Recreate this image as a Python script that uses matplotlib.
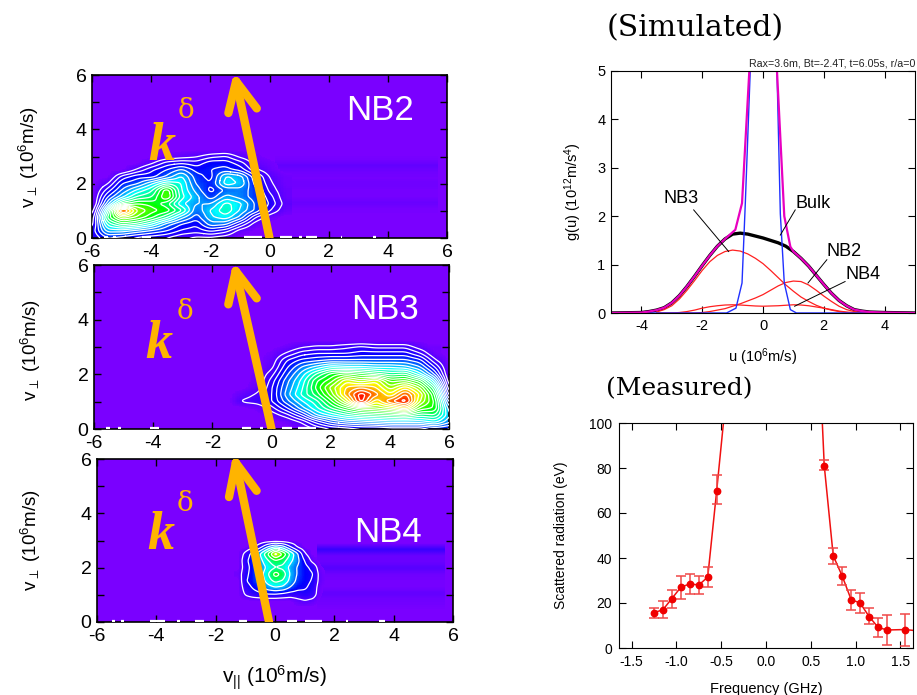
"""Velocity-space maps for NB2/NB3/NB4 with simulated and measured spectra."""

import matplotlib

matplotlib.use("Agg")
import matplotlib.pyplot as plt
import numpy as np
from matplotlib.colors import LinearSegmentedColormap

W, H = 917, 695

# fast-ion maps, rows run upward in v_perp, values in percent of colour scale
NB2_X = [-6, -5.5, -5, -4.5, -4, -3.5, -3, -2.5, -2, -1.5, -1, -0.5, 0, 0.5]
NB2_Y = [0, 0.25, 0.5, 0.75, 1, 1.25, 1.5, 1.75, 2, 2.25, 2.5, 2.75, 3, 3.25]
NB2_Z = [
    [12, 22, 20, 16, 14, 12, 8, 6, 6, 4, 0, 0, 0, 0],
    [14, 34, 34, 30, 26, 22, 16, 14, 18, 14, 4, 0, 0, 0],
    [10, 44, 54, 50, 42, 30, 22, 18, 30, 28, 16, 4, 0, 0],
    [8, 54, 72, 66, 58, 48, 34, 24, 36, 40, 30, 12, 3, 0],
    [4, 44, 98, 72, 64, 60, 48, 28, 38, 46, 36, 26, 12, 3],
    [0, 30, 56, 62, 60, 54, 38, 32, 32, 44, 38, 26, 16, 5],
    [0, 22, 36, 48, 52, 68, 44, 34, 24, 34, 30, 24, 14, 3],
    [0, 14, 28, 38, 46, 66, 42, 30, 20, 28, 30, 24, 10, 3],
    [0, 6, 22, 26, 36, 46, 42, 26, 22, 40, 36, 20, 8, 2],
    [0, 0, 14, 20, 20, 28, 38, 24, 20, 38, 34, 18, 6, 2],
    [0, 0, 0, 8, 16, 22, 28, 20, 22, 24, 20, 8, 3, 0],
    [0, 0, 0, 0, 6, 14, 16, 14, 20, 20, 14, 4, 2, 0],
    [0, 0, 0, 0, 0, 2, 4, 6, 10, 12, 5, 2, 0, 0],
    [0, 0, 0, 0, 0, 0, 0, 0, 0, 0, 0, 0, 0, 0],
]

NB3_X = [-1.5, -1, -0.5, 0, 0.5, 1, 1.5, 2, 2.5, 3, 3.5, 4, 4.5, 5, 5.5, 6]
NB3_Y = [0, 0.25, 0.5, 0.75, 1, 1.25, 1.5, 1.75, 2, 2.25, 2.5, 2.75, 3, 3.25]
NB3_Z = [
    [0, 0, 0, 0, 0, 2, 8, 12, 14, 16, 16, 18, 18, 18, 22, 20],
    [0, 0, 0, 0, 2, 8, 18, 26, 30, 32, 34, 36, 36, 36, 40, 30],
    [0, 0, 0, 4, 10, 20, 34, 40, 46, 50, 52, 54, 56, 50, 52, 34],
    [0, 0, 2, 10, 20, 32, 42, 52, 60, 68, 70, 74, 82, 64, 60, 30],
    [0, 8, 10, 16, 28, 38, 46, 60, 76, 100, 80, 92, 100, 74, 60, 22],
    [0, 4, 8, 16, 32, 44, 54, 68, 86, 100, 90, 80, 94, 78, 56, 12],
    [0, 0, 4, 16, 30, 42, 58, 72, 84, 88, 84, 72, 82, 70, 48, 6],
    [0, 0, 2, 14, 28, 40, 56, 64, 78, 72, 78, 64, 66, 58, 36, 2],
    [0, 0, 2, 10, 24, 36, 48, 58, 62, 58, 54, 50, 52, 40, 24, 0],
    [0, 0, 0, 6, 20, 30, 36, 42, 40, 40, 38, 38, 36, 30, 16, 0],
    [0, 0, 0, 4, 16, 22, 24, 26, 26, 26, 26, 26, 26, 22, 8, 0],
    [0, 0, 0, 2, 8, 14, 16, 16, 16, 18, 18, 18, 18, 12, 2, 0],
    [0, 0, 0, 0, 2, 6, 8, 8, 10, 12, 10, 10, 10, 4, 0, 0],
    [0, 0, 0, 0, 0, 0, 0, 0, 0, 0, 0, 0, 0, 0, 0, 0],
]

NB4_X = [-1.25, -1, -0.75, -0.5, -0.25, 0, 0.25, 0.5, 0.75, 1, 1.25, 1.5, 1.75]
NB4_Y = [0.5, 0.75, 1, 1.25, 1.5, 1.75, 2, 2.25, 2.5, 2.75, 3, 3.25]
NB4_Z = [
    [0, 0, 0, 0, 0, 0, 0, 0, 0, 0, 0, 0, 0],
    [0, 0, 0, 0, 0, 0, 0, 0, 4, 6, 4, 0, 0],
    [0, 8, 12, 14, 16, 16, 14, 12, 12, 14, 12, 2, 0],
    [0, 12, 18, 24, 32, 36, 34, 26, 20, 18, 14, 2, 0],
    [0, 16, 22, 30, 42, 50, 46, 34, 24, 20, 16, 4, 0],
    [2, 14, 22, 32, 46, 62, 54, 36, 26, 20, 18, 4, 0],
    [0, 12, 22, 30, 40, 46, 44, 34, 26, 20, 14, 2, 0],
    [0, 14, 24, 34, 46, 56, 52, 40, 30, 16, 4, 0, 0],
    [0, 10, 22, 38, 58, 84, 66, 46, 28, 8, 0, 0, 0],
    [0, 0, 4, 14, 28, 38, 32, 18, 6, 0, 0, 0, 0],
    [0, 0, 0, 0, 0, 0, 0, 0, 0, 0, 0, 0, 0],
    [0, 0, 0, 0, 0, 0, 0, 0, 0, 0, 0, 0, 0],
]

# faint horizontal streaks to the right of each blob
NB2_STREAK_Y = [0.75, 1.0, 1.25, 1.5, 1.75, 2.0, 2.25, 2.5, 2.75, 3.0, 3.25]
NB2_STREAK_V = [0, 1, 3, 1, 1, 2, 1, 2, 4, 1, 0]
NB3_STREAK_Y = [2.5, 2.75, 3.0, 3.25]
NB3_STREAK_V = [0, 1, 2, 0]
NB4_STREAK_Y = [0.25, 0.5, 0.75, 1.0, 1.25, 1.5, 1.75, 2.0, 2.25, 2.5, 2.75, 3.0]
NB4_STREAK_V = [0, 1, 2, 4, 1, 1, 2, 6, 3, 3, 11, 0]

# arrow: base, tip, left wing, right wing
NB2_ARROW = [(0, 0), (-1.13, 5.77), (-1.39, 4.6), (-0.43, 4.77)]
NB3_ARROW = [(0, 0), (-1.21, 5.78), (-1.46, 4.56), (-0.5, 4.78)]
NB4_ARROW = [(-0.2, 0), (-1.32, 5.86), (-1.55, 4.6), (-0.62, 4.83)]

# white specks along the lower edge (x start, x end)
NB2_SPECKS = [(-5.6, -5.45), (-5.3, -5.2), (-4.3, -4.0), (-0.85, -0.25), (0.35, 0.75), (1.0, 1.1), (1.25, 1.6), (2.4, 2.45), (3.5, 3.6)]
NB3_SPECKS = [(-5.6, -5.45), (-5.2, -5.1), (-4.1, -3.8), (-1.0, -0.7), (-0.4, -0.3), (0.35, 0.7), (0.9, 1.5)]
NB4_SPECKS = [(-5.5, -5.4), (-5.2, -5.1), (-4.2, -3.7), (-3.3, -3.2), (-2.7, -2.4), (-1.2, -0.95), (-0.3, -0.2), (0.4, 0.75), (1.0, 1.6), (2.4, 2.45), (3.5, 3.7)]

# simulated g(u)
U_TOTAL = [-5, -4, -3.75, -3.5, -3.25, -3, -2.75, -2.5, -2.25, -2, -1.75, -1.5, -1.25, -1, -0.75, -0.5, 0, 0.5, 0.75, 1, 1.25, 1.5, 1.75, 2, 2.25, 2.5, 2.75, 3, 3.25, 3.5, 4, 5]
G_TOTAL = [0, 0.01, 0.03, 0.06, 0.11, 0.21, 0.36, 0.55, 0.76, 0.98, 1.19, 1.38, 1.53, 1.63, 1.65, 1.63, 1.55, 1.45, 1.38, 1.27, 1.13, 0.97, 0.78, 0.59, 0.41, 0.26, 0.15, 0.07, 0.04, 0.02, 0.01, 0]
U_ALL_LEFT = [-5, -4, -3.75, -3.5, -3.25, -3, -2.75, -2.5, -2.25, -2, -1.75, -1.5, -1.25, -0.91, -0.69, -0.45, -0.3]
G_ALL_LEFT = [0, 0.01, 0.03, 0.06, 0.11, 0.21, 0.36, 0.55, 0.76, 0.98, 1.19, 1.38, 1.53, 1.72, 2.27, 5, 9]
U_ALL_RIGHT = [0.3, 0.46, 0.7, 0.9, 1, 1.25, 1.5, 1.75, 2, 2.25, 2.5, 2.75, 3, 3.25, 3.5, 4, 5]
G_ALL_RIGHT = [9, 5, 2.0, 1.37, 1.27, 1.13, 0.97, 0.78, 0.59, 0.41, 0.26, 0.15, 0.07, 0.04, 0.02, 0.01, 0]
U_BULK = [-5, -1.2, -0.89, -0.69, -0.58, -0.42, -0.3, 0.3, 0.46, 0.57, 0.7, 0.9, 1.1, 5]
G_BULK = [0, 0, 0.1, 0.62, 2.3, 5, 9, 9, 5, 2.05, 0.62, 0.07, 0, 0]
U_NB = [-3.5, -3.25, -3, -2.75, -2.5, -2.25, -2, -1.75, -1.5, -1.25, -1, -0.75, -0.5, -0.25, 0, 0.25, 0.5, 0.75, 1, 1.25, 1.5, 1.75, 2, 2.25, 2.5, 2.75, 3, 3.25, 3.5]
G_NB3 = [0.02, 0.07, 0.15, 0.29, 0.47, 0.67, 0.88, 1.06, 1.19, 1.27, 1.3, 1.28, 1.22, 1.13, 1.02, 0.88, 0.73, 0.58, 0.45, 0.33, 0.24, 0.16, 0.1, 0.06, 0.03, 0.01, 0, 0, 0]
G_NB2 = [0, 0, 0, 0, 0, 0, 0.01, 0.03, 0.06, 0.09, 0.14, 0.19, 0.25, 0.31, 0.38, 0.47, 0.56, 0.63, 0.66, 0.65, 0.58, 0.47, 0.35, 0.24, 0.14, 0.07, 0.03, 0.01, 0]
G_NB4 = [0, 0, 0, 0.01, 0.03, 0.06, 0.1, 0.13, 0.15, 0.165, 0.17, 0.165, 0.155, 0.145, 0.14, 0.145, 0.15, 0.16, 0.17, 0.165, 0.15, 0.125, 0.1, 0.07, 0.04, 0.02, 0.01, 0, 0]

# name, text position, leader start, leader end
CURVE_NAMES = ["NB3", "Bulk", "NB2", "NB4"]
CURVE_TEXT = [(-2.7, 2.36), (1.65, 2.26), (2.66, 1.27), (3.3, 0.8)]
LEADER_FROM = [(-2.28, 2.13), (1.06, 2.13), (2.1, 1.1), (2.7, 0.65)]
LEADER_TO = [(-1.13, 1.27), (0.57, 1.61), (1.48, 0.62), (1.04, 0.14)]

# measured spectrum
FREQ = [-1.25, -1.15, -1.05, -0.95, -0.85, -0.75, -0.65, -0.55, 0.65, 0.75, 0.85, 0.95, 1.05, 1.15, 1.25, 1.35, 1.55]
SIGNAL = [15.7, 17, 22, 27, 28.5, 28, 31.5, 70, 81, 41, 32, 21.5, 20, 14, 9.2, 8, 8.2]
ERR_LOW = [13.5, 13.5, 18, 22, 24, 24, 27, 64, 79, 37.5, 28, 17, 15.5, 10.5, 5, 1.5, 1]
ERR_HIGH = [18, 21, 26, 32, 33, 32, 36, 77, 83.5, 44.5, 36, 26, 24.5, 18, 13.5, 14.8, 15.3]
LINE_FREQ = [-1.25, -1.15, -1.05, -0.95, -0.85, -0.75, -0.65, -0.55, -0.45, 0.6, 0.65, 0.75, 0.85, 0.95, 1.05, 1.15, 1.25, 1.35, 1.55, 1.65]
LINE_SIGNAL = [15.7, 17, 22, 27, 28.5, 28, 31.5, 70, 110, 125, 81, 41, 32, 21.5, 20, 14, 9.2, 8, 8.2, 7.8]

plt.rcParams["font.family"] = ["Liberation Sans", "DejaVu Sans"]
plt.rcParams["mathtext.default"] = "regular"
plt.rcParams["axes.unicode_minus"] = False

CMAP = LinearSegmentedColormap.from_list(
    "maps", ["#7a00ff", "#0000ff", "#00ffff", "#00ff00", "#ffff00", "#ff0000"]
)
ORANGE = "#ffb400"


def add_axes_px(fig, left, top, right, bottom):
    return fig.add_axes([left / W, 1 - bottom / H, (right - left) / W, (bottom - top) / H])


def smooth_field(xs, ys, z, n=10):
    """Refine a coarse map by block repeat and two box passes."""
    z = np.asarray(z, dtype=float) / 100
    fine = np.kron(z, np.ones((n, n)))
    for width in (n, n // 2):
        kernel = np.ones(width) / width
        for axis in (0, 1):
            pad = [(0, 0), (0, 0)]
            pad[axis] = (n, n)
            padded = np.pad(fine, pad, mode="edge")
            padded = np.apply_along_axis(lambda v: np.convolve(v, kernel, mode="same"), axis, padded)
            fine = padded[n:-n, :] if axis == 0 else padded[:, n:-n]
    dx = xs[1] - xs[0]
    dy = ys[1] - ys[0]
    fx = xs[0] - dx / 2 + (np.arange(fine.shape[1]) + 0.5) * dx / n
    fy = ys[0] - dy / 2 + (np.arange(fine.shape[0]) + 0.5) * dy / n
    return fx, fy, fine


def draw_map(ax, name, xs, ys, z, streak_y, streak_v, streak_x0, arrow, specks, k_pos, d_pos, name_pos, step):
    ax.set_facecolor(CMAP(0.0))
    strip = np.array(streak_v, dtype=float)[:, None] / 100
    ax.imshow(
        strip,
        extent=[streak_x0, 5.7, streak_y[0], streak_y[-1]],
        origin="lower",
        aspect="auto",
        cmap=CMAP,
        vmin=0,
        vmax=1,
        interpolation="bilinear",
        zorder=1,
    )
    fx, fy, fine = smooth_field(xs, ys, z)
    ax.pcolormesh(fx, fy, np.ma.masked_less(fine, 0.012), cmap=CMAP, vmin=0, vmax=1, shading="nearest", zorder=2)
    ax.contour(fx, fy, fine, levels=np.arange(0.07, 1.0, step), colors="white", linewidths=0.9, zorder=3)
    for x0, x1 in specks:
        ax.plot([x0, x1], [0.04, 0.04], color="white", lw=1.6, solid_capstyle="butt", zorder=4)
    base, tip, wing_l, wing_r = arrow
    for start, end in ((base, tip), (wing_l, tip), (wing_r, tip)):
        ax.plot([start[0], end[0]], [start[1], end[1]], color=ORANGE, lw=6, solid_capstyle="round", zorder=5)
    ax.text(*k_pos, "k", color=ORANGE, family="Liberation Serif", style="italic", weight="bold", fontsize=39, zorder=6)
    ax.text(*d_pos, "δ", color=ORANGE, family="DejaVu Serif", fontsize=20, zorder=6)
    ax.text(*name_pos, name, color="white", fontsize=25, ha="center", va="center", zorder=6)
    ax.set_xlim(-6, 6)
    ax.set_ylim(0, 6)
    ax.set_xticks(range(-6, 7, 2))
    ax.set_yticks(range(0, 7, 2))
    ax.set_yticks(range(1, 7, 2), minor=True)
    ax.tick_params(which="both", direction="in", top=True, right=True, labelsize=14, pad=4, length=5, width=1)
    for spine in ax.spines.values():
        spine.set_linewidth(1.2)


def main():
    fig = plt.figure(figsize=(W / 100, H / 100), dpi=100)

    ax = add_axes_px(fig, 92, 75, 447, 238)
    draw_map(ax, "NB2", NB2_X, NB2_Y, NB2_Z, NB2_STREAK_Y, NB2_STREAK_V, 0.2, NB2_ARROW, NB2_SPECKS,
             (-4.1, 2.87), (-3.1, 4.4), (3.73, 4.7), 0.05)
    ax = add_axes_px(fig, 94, 265, 449, 429)
    draw_map(ax, "NB3", NB3_X, NB3_Y, NB3_Z, NB3_STREAK_Y, NB3_STREAK_V, 4.0, NB3_ARROW, NB3_SPECKS,
             (-4.27, 2.6), (-3.2, 4.04), (3.85, 4.37), 0.045)
    ax = add_axes_px(fig, 97, 459, 453, 622)
    draw_map(ax, "NB4", NB4_X, NB4_Y, NB4_Z, NB4_STREAK_Y, NB4_STREAK_V, 1.4, NB4_ARROW, NB4_SPECKS,
             (-4.3, 2.7), (-3.3, 4.1), (3.8, 3.3), 0.1)

    perp = r"v$_{\perp}$ (10$^{6}$m/s)"
    fig.text(29 / W, 1 - 157 / H, perp, rotation=90, ha="center", va="center", fontsize=13.5)
    fig.text(31 / W, 1 - 350 / H, perp, rotation=90, ha="center", va="center", fontsize=13.5)
    fig.text(31 / W, 1 - 540 / H, perp, rotation=90, ha="center", va="center", fontsize=13.5)
    fig.text(274 / W, 1 - 678 / H, r"v$_{||}$ (10$^{6}$m/s)", ha="center", va="center", fontsize=15)

    # simulated distribution
    ax = add_axes_px(fig, 611, 71, 915, 313)
    ax.plot(U_TOTAL, G_TOTAL, color="black", lw=2.4)
    ax.plot(U_NB, G_NB3, color="#ff2020", lw=0.9)
    ax.plot(U_NB, G_NB2, color="#ff2020", lw=0.9)
    ax.plot(U_NB, G_NB4, color="#ff2020", lw=0.9)
    ax.plot(U_BULK, G_BULK, color="#2030ff", lw=1.0)
    ax.plot(U_ALL_LEFT, G_ALL_LEFT, color="#e800c0", lw=1.6)
    ax.plot(U_ALL_RIGHT, G_ALL_RIGHT, color="#e800c0", lw=1.6)
    for label, pos, p0, p1 in zip(CURVE_NAMES, CURVE_TEXT, LEADER_FROM, LEADER_TO):
        ax.text(*pos, label, fontsize=13, ha="center", va="center")
        ax.plot([p0[0], p1[0]], [p0[1], p1[1]], color="black", lw=0.7)
    ax.set_xlim(-5, 5)
    ax.set_ylim(0, 5)
    ax.set_xticks(range(-4, 5, 2))
    ax.set_yticks(range(0, 6))
    ax.tick_params(direction="in", top=True, right=True, labelsize=10.5, length=5, width=0.8, pad=4)
    fig.text(915 / W, 1 - 67 / H, "Rax=3.6m, Bt=-2.4T, t=6.05s, r/a=0", ha="right", fontsize=7.7, color="#222222")
    fig.text(763 / W, 1 - 357 / H, r"u (10$^{6}$m/s)", ha="center", va="center", fontsize=10.5)
    fig.text(573 / W, 1 - 192 / H, r"g(u) (10$^{12}$m/s$^{4}$)", rotation=90, ha="center", va="center", fontsize=10.5)

    # measured spectrum
    ax = add_axes_px(fig, 619, 423, 913, 648)
    ax.plot(LINE_FREQ, LINE_SIGNAL, color="#f01010", lw=1.1)
    low = np.array(SIGNAL) - np.array(ERR_LOW)
    high = np.array(ERR_HIGH) - np.array(SIGNAL)
    ax.errorbar(FREQ, SIGNAL, yerr=[low, high], fmt="none", ecolor="#f04848", elinewidth=1.1, capsize=3.5, capthick=1.1)
    ax.plot(FREQ, SIGNAL, "o", color="#f00000", ms=4.6)
    ax.set_xlim(-1.64, 1.64)
    ax.set_ylim(0, 100)
    ax.set_xticks([-1.5, -1.0, -0.5, 0.0, 0.5, 1.0, 1.5])
    ax.set_yticks(range(0, 101, 20))
    ax.tick_params(direction="in", top=True, right=True, labelsize=10, length=5, width=0.8, pad=5)
    fig.text(766 / W, 1 - 689 / H, "Frequency (GHz)", ha="center", va="center", fontsize=10.5)
    fig.text(561 / W, 1 - 535 / H, "Scattered radiation (eV)", rotation=90, ha="center", va="center", fontsize=10)

    fig.text(607 / W, 1 - 36 / H, "(Simulated)", family="DejaVu Serif", fontsize=21.5)
    fig.text(606 / W, 1 - 395 / H, "(Measured)", family="DejaVu Serif", fontsize=18)

    fig.savefig("out.png", dpi=100)
    plt.close(fig)


if __name__ == "__main__":
    main()
